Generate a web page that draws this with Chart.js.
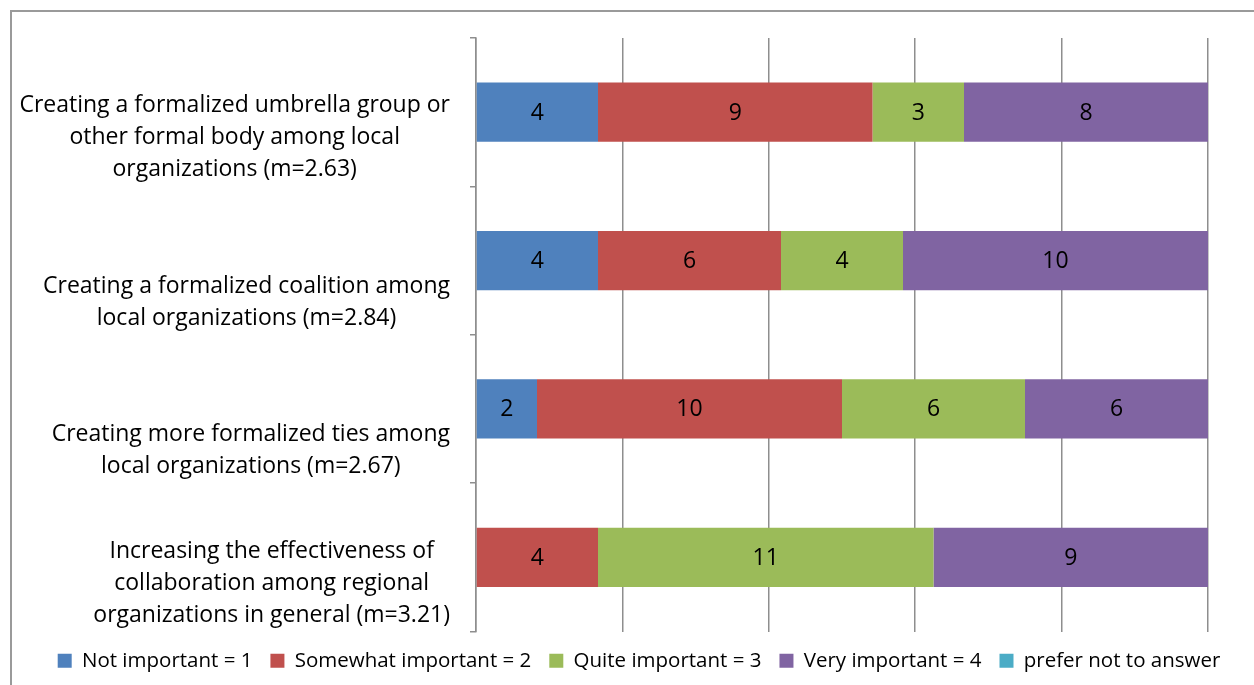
<!DOCTYPE html>
<html>
<head>
<meta charset="utf-8">
<title>Importance of formalized collaboration</title>
<script src="https://cdn.jsdelivr.net/npm/chart.js@4.4.1/dist/chart.umd.min.js"></script>
<style>
  html, body { margin: 0; padding: 0; background: #ffffff; overflow: hidden; }
  #frame { position: absolute; left: 10px; top: 10px; width: 1300px; height: 700px;
           border: 2px solid #9a9a9a; box-sizing: border-box; }
  #wrap { position: absolute; left: 0; top: 0; width: 1254px; height: 685px; }
</style>
</head>
<body>
<div id="frame"></div>
<div id="wrap"><canvas id="chart" width="1254" height="685"></canvas></div>
<script>
// Survey items (each label is split into its display lines)
const categories = [
  ["Creating a formalized umbrella group or", "other formal body among local", "organizations (m=2.63)"],
  ["Creating a formalized coalition among", "local organizations (m=2.84)"],
  ["Creating more formalized ties among", "local organizations (m=2.67)"],
  ["Increasing the effectiveness of", "collaboration among regional", "organizations in general (m=3.21)"]
];

// Response categories
const seriesNames = [
  "Not important = 1",
  "Somewhat important = 2",
  "Quite important = 3",
  "Very important = 4",
  "prefer not to answer"
];

// Number of respondents per response, one entry per survey item
const notImportant      = [4, 4, 2, 0];
const somewhatImportant = [9, 6, 10, 4];
const quiteImportant    = [3, 4, 6, 11];
const veryImportant     = [8, 10, 6, 9];
const preferNotAnswer   = [0, 0, 0, 0];

const seriesValues = [notImportant, somewhatImportant, quiteImportant, veryImportant, preferNotAnswer];
const seriesColors = ["#4F81BD", "#C0504D", "#9BBB59", "#8064A2", "#4BACC6"];

// Full scale equals the number of respondents; gridlines every fifth
const totals = categories.map((_, i) => seriesValues.reduce((s, arr) => s + arr[i], 0));
const scaleMax = Math.max(...totals);

const FONT = '"Open Sans", "Noto Sans", sans-serif';
const LABEL_SIZE = 23;
const LINE_GAP = 32;
const GRID = "#8e8e8e";

// Draws the multi-line category labels, each line centred inside its block,
// with the block right-aligned against the axis and resting on the band's lower edge
const categoryLabelPlugin = {
  id: "categoryLabels",
  afterDraw(chart) {
    const { ctx } = chart;
    const y = chart.scales.y;
    const band = (y.getPixelForValue(1) - y.getPixelForValue(0));
    ctx.save();
    ctx.font = LABEL_SIZE + "px " + FONT;
    ctx.fillStyle = "#000000";
    ctx.textAlign = "center";
    ctx.textBaseline = "alphabetic";
    const rightEdge = y.right - 26;
    chart.data.labels.forEach((lines, i) => {
      const widest = Math.max(...lines.map(l => ctx.measureText(l).width));
      const cx = rightEdge - widest / 2;
      const bottom = y.getPixelForValue(i) + band / 2 - 10;
      lines.forEach((line, k) => {
        ctx.fillText(line, cx, bottom - (lines.length - 1 - k) * LINE_GAP);
      });
    });
    ctx.restore();
  }
};

// Writes each segment's count in the middle of its bar
const segmentValuePlugin = {
  id: "segmentValues",
  afterDatasetsDraw(chart) {
    const { ctx } = chart;
    ctx.save();
    ctx.font = LABEL_SIZE + "px " + FONT;
    ctx.fillStyle = "#000000";
    ctx.textAlign = "center";
    ctx.textBaseline = "middle";
    chart.data.datasets.forEach((ds, di) => {
      const meta = chart.getDatasetMeta(di);
      if (meta.hidden) return;
      meta.data.forEach((bar, j) => {
        const v = ds.data[j];
        if (!v) return;
        const { x, base, y } = bar.getProps(["x", "base", "y"], true);
        ctx.fillText(String(v), (x + base) / 2, y + 1);
      });
    });
    ctx.restore();
  }
};

new Chart(document.getElementById("chart"), {
  type: "bar",
  data: {
    labels: categories,
    datasets: seriesNames.map((name, i) => ({
      label: name,
      data: seriesValues[i],
      backgroundColor: seriesColors[i],
      borderWidth: 0,
      barPercentage: 0.4,
      categoryPercentage: 1.0
    }))
  },
  options: {
    indexAxis: "y",
    responsive: false,
    animation: false,
    devicePixelRatio: 1,
    layout: { padding: { left: 24, right: 0, top: 38, bottom: 4 } },
    scales: {
      x: {
        stacked: true,
        min: 0,
        max: scaleMax,
        ticks: { display: false, stepSize: scaleMax / 5 },
        grid: { color: GRID, lineWidth: 1.5, drawTicks: false },
        border: { display: false },
        afterFit(scale) { scale.height = 1; }
      },
      y: {
        stacked: true,
        ticks: { display: false },
        grid: { offset: true, drawOnChartArea: false, drawTicks: true, tickLength: 6, color: GRID, lineWidth: 1.5 },
        border: { display: true, color: GRID, width: 1.5 },
        afterFit(scale) { scale.width = 476 - 24; }
      },
      // empty right-hand margin so the plot ends short of the frame
      margin: {
        type: "linear",
        position: "right",
        display: true,
        ticks: { display: false },
        grid: { display: false, drawTicks: false },
        border: { display: false },
        afterFit(scale) { scale.width = 46; }
      }
    },
    plugins: {
      legend: {
        position: "bottom",
        labels: {
          boxWidth: 14,
          boxHeight: 14,
          padding: 18,
          color: "#000000",
          font: { family: FONT, size: 20.5 }
        }
      },
      tooltip: { enabled: false }
    }
  },
  plugins: [categoryLabelPlugin, segmentValuePlugin]
});
</script>
</body>
</html>
